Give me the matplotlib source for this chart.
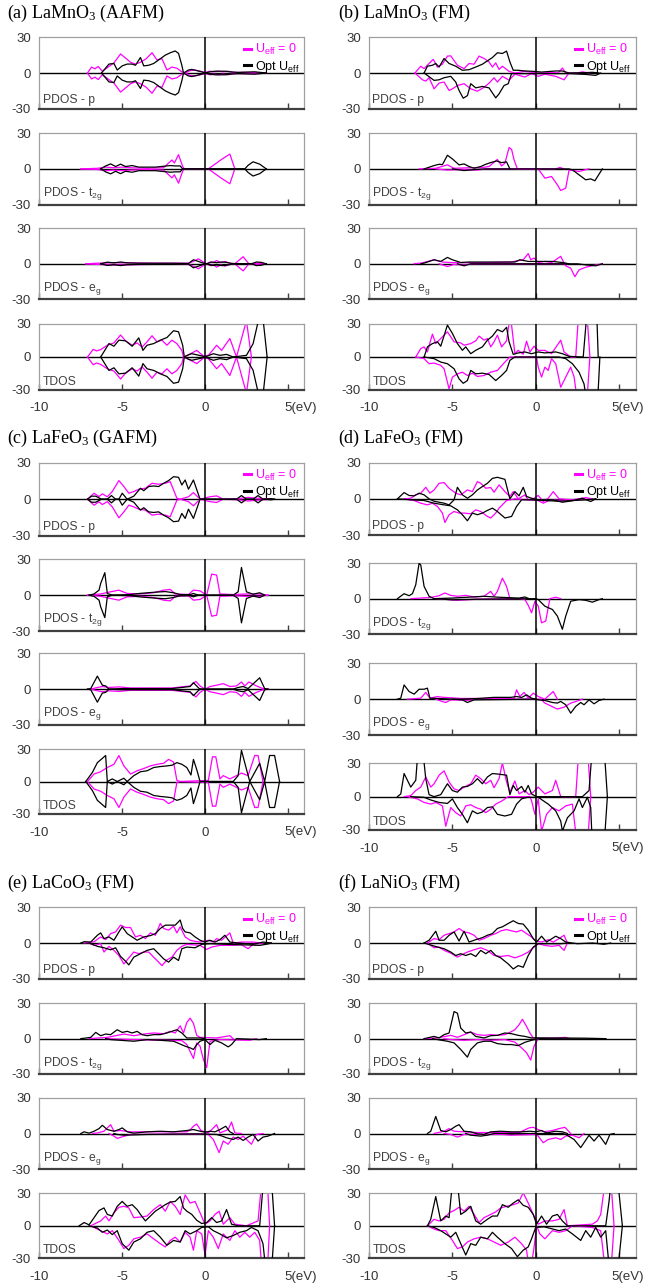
import numpy as np
import matplotlib as mpl
mpl.use('Agg')
import matplotlib.pyplot as plt
from matplotlib.lines import Line2D

plt.rcParams['font.family'] = ['Liberation Sans', 'DejaVu Sans']
plt.rcParams['mathtext.default'] = 'regular'

W, H = 645, 1287
MAG = '#ff00ff'
GREY = '#404040'

# ---- data: (energy eV, DOS) keypoints ----
# m = U_eff = 0 (magenta), k = optimal U_eff (black); u = spin up, d = spin down
# AFM panels (a), (c) are mirror symmetric, only the up part is listed

# (a) LaMnO3 AAFM
a_p_m = [(-7.1,0),(-6.85,5),(-6.65,3.5),(-6.45,5.5),(-6.2,1.5),(-5.85,5),(-5.5,8.5),(-5.1,16),(-4.75,12),(-4.5,9),(-4.2,7.5),(-3.9,9),(-3.55,12),(-3.2,17),(-2.9,11),(-2.6,12),(-2.3,2.5),(-2.0,5),(-1.7,4),(-1.4,1),(-1.2,0),(-0.9,2),(-0.6,2.5),(-0.3,1.5),(0,0.5),(0.3,1.5),(0.55,1),(0.8,1.5),(1.1,1),(1.4,1.5),(1.7,0.5),(2.5,0.5),(3.7,0)]
a_p_k = [(-6.25,0),(-5.8,7.5),(-5.5,8),(-5.3,2.5),(-5.0,6),(-4.7,7.5),(-4.4,7.5),(-4.2,6.5),(-3.9,13),(-3.7,6),(-3.4,6.5),(-3.1,8),(-2.7,12),(-2.4,15),(-2.1,17),(-1.8,18.5),(-1.6,16.5),(-1.4,6.5),(-1.3,0),(-1.0,2.5),(-0.8,3),(-0.5,2),(-0.2,1),(0,0),(0.3,1),(0.6,1.5),(0.9,1.5),(1.2,1.5),(1.5,1),(2.0,0.5),(3.0,1),(3.7,0)]
a_t_m = [(-7.5,0),(-6.5,0.5),(-6,1.5),(-5.5,1),(-5,1.5),(-4.5,1),(-3.5,0.5),(-2.5,1),(-2.0,7.5),(-1.85,5),(-1.6,12),(-1.35,2),(-1.25,0),(0.2,0),(0.6,4),(1.0,8),(1.5,12.5),(1.8,0)]
a_t_k = [(-6.3,0),(-6.0,2.5),(-5.7,4.2),(-5.4,2),(-5.1,4),(-4.8,2),(-4.4,2.8),(-4.0,1.5),(-3.0,1.5),(-2.1,2.8),(-1.8,2.5),(-1.5,2.5),(-1.35,0),(2.4,0),(2.6,3),(2.9,6),(3.3,4),(3.7,0)]
a_e_m = [(-7.2,0),(-6.5,0.5),(-5.5,1),(-4.5,0.8),(-3,0.5),(-1.0,0.5),(-0.7,2),(-0.4,4.2),(-0.1,1.5),(0.1,0),(0.3,1.5),(0.5,1),(0.7,2.8),(0.95,1),(1.2,2),(1.5,0.5),(1.8,0),(2.3,6),(2.65,0),(3.2,0.5),(3.6,0)]
a_e_k = [(-6.3,0),(-5.9,1.4),(-5.5,0.8),(-5.1,1.5),(-4.7,0.8),(-4.0,0.5),(-2,0.5),(-1.0,0.3),(-0.7,3.4),(-0.4,2),(-0.1,0.5),(0.1,0),(0.4,1.5),(0.7,1),(1.0,1.5),(1.3,1.2),(1.6,0.3),(2.8,0),(3.1,1.5),(3.4,1.2),(3.7,0)]
a_T_m = [(-7.1,0),(-6.75,7),(-6.55,5.5),(-6.3,6.7),(-5.9,10.7),(-5.5,12.8),(-5.1,20),(-4.8,14.7),(-4.4,10.7),(-4.1,12.8),(-3.8,9),(-3.5,13.8),(-3.2,19.3),(-2.9,13.8),(-2.6,15.3),(-2.3,10.7),(-2.0,15.3),(-1.7,12.2),(-1.4,6),(-1.3,0),(-1.0,2),(-0.5,6),(-0.1,1),(0.2,1.5),(0.45,6),(0.7,10.7),(1.0,6),(1.5,16.8),(1.9,0),(2.5,33),(2.8,0)]
a_T_k = [(-6.3,0),(-5.8,12.2),(-5.5,9.8),(-5.2,15.3),(-4.8,14.7),(-4.4,9.8),(-4.0,17.4),(-3.75,6),(-3.5,10.7),(-3.1,12.2),(-2.7,15.3),(-2.3,17.7),(-1.9,23.9),(-1.6,22.9),(-1.35,10.7),(-1.25,0),(-1.0,2),(-0.8,3),(-0.5,2),(-0.2,1),(0,0),(0.5,3),(0.9,1.5),(1.3,2.4),(1.7,0),(2.5,1.5),(2.9,12),(3.25,35),(3.5,35),(3.75,0)]

# (b) LaMnO3 FM
b_p_mu = [(-7.25,0),(-6.9,5.7),(-6.7,3.7),(-6.4,8),(-6.15,11.5),(-5.9,5),(-5.6,7.4),(-5.3,14.2),(-5.1,14.4),(-4.7,6.5),(-4.3,3.7),(-4.0,8),(-3.7,7.4),(-3.4,14.2),(-3.1,12.2),(-2.8,9.3),(-2.6,5),(-2.4,8.5),(-2.2,3),(-2.0,5.7),(-1.6,1.4),(-1.25,0),(-0.65,1.4),(-0.2,0.5),(0.3,0),(1.0,0.5),(1.35,0),(1.6,4.2),(1.8,0),(2.5,0),(2.8,1),(3.2,0)]
b_p_md = [(-7.25,0),(-6.8,-5.7),(-6.6,-6.8),(-6.4,-4),(-6.1,-13.3),(-5.8,-8.5),(-5.5,-7.6),(-5.2,-14.7),(-5.0,-13.3),(-4.7,-10.5),(-4.3,-9),(-3.9,-13.3),(-3.5,-15.3),(-3.1,-12),(-2.8,-8.5),(-2.5,-4),(-2.3,-7.6),(-2.0,-2.8),(-1.6,-6),(-1.25,-1),(-0.65,-3.4),(-0.25,-0.5),(0.15,-2.8),(0.55,-1),(1.2,-2.8),(1.7,-5.7),(2.0,0)]
b_p_ku = [(-6.7,0),(-6.5,5.7),(-6.2,6.5),(-6.0,8),(-5.8,5),(-5.5,12.2),(-5.2,8),(-4.8,5.7),(-4.4,2.3),(-4.0,2.8),(-3.6,5),(-3.2,7.4),(-2.9,10.2),(-2.6,13),(-2.3,17),(-2.0,16.4),(-1.75,18.4),(-1.55,9.3),(-1.35,2.3),(-1.05,2.3),(-0.65,1.7),(-0.15,1.4),(0.35,0.8),(1.2,1.7),(1.6,1.7),(2.0,0),(3.0,0.3),(3.4,0.6),(3.8,0)]
b_p_kd = [(-6.7,0),(-6.1,-6.2),(-5.8,-5.7),(-5.5,-4),(-5.1,-2.8),(-4.8,-7.6),(-4.6,-14.7),(-4.35,-21.2),(-4.1,-19),(-3.9,-9),(-3.6,-12.5),(-3.2,-11.3),(-2.8,-12.5),(-2.4,-20.9),(-2.2,-17.5),(-1.9,-10.5),(-1.65,-9),(-1.45,-0.5),(0,-0.5),(2.0,-0.5),(3.0,-1.2),(3.6,-2),(3.9,0)]
b_t_mu = [(-7,0),(-6,0.5),(-5.3,3.4),(-4.9,0.5),(-4,1),(-3.3,1),(-2.8,2),(-2.3,8),(-2.05,2.5),(-1.85,4.8),(-1.6,18),(-1.45,16.5),(-1.3,7.6),(-1.1,0),(1.2,0),(1.45,1.2),(1.7,0)]
b_t_md = [(-6,0),(-5.3,-1),(-4.5,-0.5),(-3.5,-1),(-3,0),(0.15,0),(0.55,-7.8),(0.95,-6.4),(1.3,-13.4),(1.5,-18.2),(1.8,-16.2),(2.0,-1),(2.3,-1.5),(2.6,-2.2),(2.9,-1),(3.2,0)]
b_t_ku = [(-6.7,0),(-6.1,2.8),(-5.8,3.9),(-5.6,3.6),(-5.3,11.5),(-5.0,8.4),(-4.6,3.4),(-4.3,4.2),(-4.0,2),(-3.7,0.6),(-3.3,2),(-3.0,3.9),(-2.7,5.3),(-2.35,6.7),(-2.05,5.3),(-1.75,5.9),(-1.55,0)]
b_t_kd = [(-5,0),(-4.3,-1.4),(-3.6,-0.5),(-3,0),(2.0,0),(2.2,-0.8),(2.6,-5),(3.0,-9.2),(3.3,-8.4),(3.55,-10),(4.0,0)]
b_e_mu = [(-7.3,0),(-6.8,0.8),(-6.1,3.4),(-5.6,1.5),(-5,1),(-3,1),(-1.5,1.5),(-0.75,3.4),(-0.45,8.6),(-0.3,3.4),(-0.1,4.9),(0.15,1.1),(0.55,2),(0.95,1.1),(1.2,3.4),(1.5,6.3),(1.7,0.6),(1.9,0)]
b_e_md = [(-5.8,0),(-5.3,-2.3),(-4.9,-0.5),(-4.3,-1),(-3.8,0),(1.7,0),(1.8,-1.7),(2.1,-3.7),(2.35,-10.9),(2.6,-5.1),(3.0,-2.9),(3.6,-1),(4.0,0)]
b_e_ku = [(-6.9,0),(-6.7,0.6),(-6.1,3.4),(-5.7,2),(-5.3,5.4),(-5.0,3.4),(-4.5,1.1),(-4,1.5),(-2,1.5),(-1.25,1.5),(-0.95,3.4),(-0.45,2),(0.15,2),(1.0,2),(1.6,1.1),(2.0,0)]
b_e_kd = [(-4.7,0),(-4.3,-1.7),(-3.9,0),(2.5,0),(3.0,-0.9),(3.6,-1.7),(4.0,0)]
b_T_mu = [(-7.2,0),(-6.9,7.6),(-6.7,9.2),(-6.5,4.6),(-6.2,20.8),(-6.0,12.2),(-5.7,16.8),(-5.3,22.9),(-4.9,13.8),(-4.5,12.8),(-4.3,10.7),(-3.9,12.2),(-3.6,14.7),(-3.4,19),(-3.1,15.3),(-2.9,16.8),(-2.7,9.2),(-2.5,13.8),(-2.3,19.9),(-2.05,9.2),(-1.75,14.7),(-1.6,30.5),(-1.45,29),(-1.25,3),(-1.05,6.1),(-0.75,2.5),(-0.55,14.4),(-0.35,4.6),(-0.1,9.8),(0.15,6),(0.55,6),(0.95,3),(1.2,8.6),(1.5,15.3),(1.7,4.6),(2.1,0),(2.4,0),(2.6,45),(3.05,45),(3.25,0)]
b_T_md = [(-7.2,0),(-6.7,-1.5),(-6.4,-6.1),(-6.1,-5.5),(-5.7,-7.6),(-5.5,-10.7),(-5.2,-29),(-5.0,-18.3),(-4.7,-15.3),(-4.4,-13.8),(-4.1,-16.8),(-3.8,-14.7),(-3.5,-17.7),(-3.1,-16.8),(-2.7,-13.8),(-2.3,-12.2),(-1.85,-4.6),(-1.55,0),(0.05,0),(0.15,-9.2),(0.35,-18.3),(0.55,-9.2),(0.75,-12.2),(0.95,-1.5),(1.2,-6.1),(1.5,-27.5),(1.8,-18.3),(2.1,-9.2),(2.3,-18),(2.55,-45),(3.05,-45),(3.25,0)]
b_T_ku = [(-6.7,0),(-6.5,9.2),(-6.2,12.2),(-5.9,13.8),(-5.7,9.8),(-5.3,29),(-5.0,21.4),(-4.7,12.2),(-4.4,6.1),(-4.2,9.2),(-3.9,3),(-3.6,6.1),(-3.2,9.2),(-2.9,15.3),(-2.6,19),(-2.3,25),(-2.0,22.9),(-1.75,27),(-1.6,13.8),(-1.35,2.4),(-1.05,3.7),(-0.65,4.6),(-0.25,3),(0.15,4.6),(0.55,3.7),(1.2,4.6),(1.6,3),(2.0,0.6),(2.85,0),(3.1,45),(3.65,45),(3.75,0)]
b_T_kd = [(-6.7,0),(-6.1,-1.5),(-5.7,-4.6),(-5.3,-6.1),(-4.9,-10.7),(-4.6,-19.9),(-4.35,-23.9),(-4.1,-21.4),(-3.9,-12.2),(-3.6,-15.3),(-3.2,-14.7),(-2.8,-15.9),(-2.4,-21.4),(-2.05,-16.8),(-1.75,-12.2),(-1.55,-3),(-1.25,0),(1.4,0),(1.8,-1.5),(2.2,-6.1),(2.6,-13.8),(2.9,-24.5),(3.1,-45),(3.7,-45),(3.85,0)]

# (c) LaFeO3 GAFM
c_p_m = [(-7.1,0),(-6.7,4.9),(-6.4,2.2),(-6.2,4.4),(-5.9,2),(-5.6,6.3),(-5.2,15.3),(-4.9,10.4),(-4.6,4.9),(-4.3,6.3),(-4.0,8.2),(-3.6,9),(-3.2,13.1),(-2.8,12.3),(-2.4,13.1),(-2.1,14.4),(-1.9,7.6),(-1.7,0.8),(-1.5,0),(-1.0,2),(-0.7,5.4),(-0.3,0),(0.3,2),(0.7,2.7),(1.1,0),(2.0,0.5),(2.6,1.5),(3.0,1),(3.5,0.5),(4.0,0)]
c_p_k = [(-7.1,0),(-6.85,2.5),(-6.6,2.5),(-6.25,0),(-5.9,0),(-5.65,3),(-5.4,0),(-5.2,0),(-5.0,4.9),(-4.7,0),(-4.3,2.5),(-3.9,9),(-3.7,7),(-3.4,10.4),(-3.1,10.9),(-2.8,10.4),(-2.5,13.1),(-2.2,15.3),(-1.9,18.5),(-1.6,18),(-1.4,11.7),(-1.2,15.8),(-1.0,8.2),(-0.7,15.8),(-0.3,0),(1.9,0),(2.2,3),(2.5,0),(2.9,0),(3.2,3),(3.5,0),(4.0,0.5),(4.2,0)]
c_t_m = [(-7.1,0),(-6.3,1),(-5.7,2.8),(-5.2,4.2),(-4.7,1.4),(-3.9,1),(-3.1,2),(-2.5,4.2),(-2.1,4.8),(-1.8,1),(-1.0,0.5),(-0.7,4.2),(-0.3,3.6),(0.1,0),(0.4,17.6),(0.7,16.8),(0.9,1),(1.7,0.5),(2.5,1),(3.3,1),(3.8,0)]
c_t_k = [(-7.0,0),(-6.7,1),(-6.4,4.2),(-6.3,9.8),(-6.05,18.8),(-5.9,1.4),(-5.6,0),(-4.5,0.5),(-3.9,1.5),(-3.0,2.5),(-2.4,3),(-1.9,2),(-1.5,0.5),(-0.9,0.5),(-0.7,1.4),(-0.4,0),(1.7,0),(2.0,2.8),(2.2,23.2),(2.5,2.8),(2.9,0.8),(3.3,2),(3.6,0)]
c_e_m = [(-6.9,0),(-6.5,1.4),(-6.2,2.2),(-5.8,1.4),(-5.2,1.9),(-4.5,1),(-2,1),(-0.9,2.7),(-0.55,6.5),(-0.3,2.7),(0,0),(0.3,2.2),(0.7,3.3),(1.1,4.6),(1.5,2.2),(1.9,2.7),(2.2,6),(2.4,2.7),(2.65,6),(3.1,2.7),(3.5,0.5),(3.8,0)]
c_e_k = [(-7.1,0),(-6.9,0.5),(-6.5,10.9),(-6.2,3.3),(-6.0,2.7),(-5.8,0),(-5,0.5),(-2,0.5),(-0.9,2.2),(-0.7,5.4),(-0.35,0.5),(-0.2,0),(1.7,0),(2.0,1.4),(2.3,2.2),(2.6,0.5),(3.3,9.5),(3.6,0.5),(3.8,0)]
c_T_m = [(-7.1,0),(-6.7,6.9),(-6.3,9),(-5.9,12.9),(-5.5,15.9),(-5.2,24),(-4.9,14.4),(-4.5,6.9),(-4.1,9.9),(-3.7,12),(-3.3,14.4),(-2.9,15.9),(-2.5,16.8),(-2.2,20.4),(-1.9,18),(-1.7,1),(-1.5,0),(0.2,1),(0.45,22.8),(0.65,22.8),(0.9,2.4),(1.1,5.4),(1.5,2.4),(1.9,5.4),(2.2,7.8),(2.6,5.4),(3.0,24),(3.2,24),(3.5,0)]
c_T_k = [(-7.2,0),(-6.8,8.4),(-6.5,17.4),(-6.0,24),(-5.9,0),(-5.6,2.4),(-5.3,0),(-4.9,3),(-4.7,0),(-4.3,5.4),(-3.9,9),(-3.5,9.9),(-3.1,12.9),(-2.7,13.8),(-2.3,14.4),(-2.0,15),(-1.7,17.4),(-1.4,15.9),(-1.1,12.9),(-0.85,6),(-0.7,20.4),(-0.5,11),(-0.3,0),(1.7,0),(2.0,5.4),(2.2,28.8),(2.5,11.4),(2.7,0),(3.3,16.8),(3.6,0),(3.9,24),(4.2,24),(4.5,0)]

# (d) LaFeO3 FM
d_p_mu = [(-7.9,0),(-7.5,0.5),(-7.2,3.3),(-6.9,4.7),(-6.6,9.6),(-6.35,4.7),(-6.1,7.4),(-5.8,12.9),(-5.5,13.5),(-5.2,8.8),(-4.8,4.7),(-4.5,3.3),(-4.1,7.4),(-3.8,6),(-3.5,14.3),(-3.3,12.9),(-3.0,8.8),(-2.7,9.4),(-2.5,5.5),(-2.2,11.6),(-1.85,6),(-1.55,2),(-1.35,6),(-1.05,0),(-0.65,3.3),(-0.45,-0.8),(-0.15,0),(0.15,2.8),(0.45,-2.2),(0.75,0.5),(1.05,6),(1.4,0),(2.2,-0.8),(3.0,1),(3.4,0)]
d_p_md = [(-7.9,0),(-7.3,-1.4),(-6.9,-3.6),(-6.5,-5),(-6.2,-3.6),(-5.9,-6.3),(-5.6,-11.8),(-5.45,-19.6),(-5.2,-13.2),(-4.9,-10.5),(-4.6,-11.8),(-4.3,-11.8),(-3.9,-12.4),(-3.6,-9.1),(-3.3,-10.5),(-2.9,-14.6),(-2.7,-15.9),(-2.4,-11.8),(-2.2,-7.7),(-1.75,-1.4),(-1.25,0),(0.15,-1.4),(0.45,-3.6),(0.9,-0.8),(1.8,-1.6),(2.6,-0.8),(3.4,0)]
d_p_ku = [(-8.3,0),(-7.9,5.2),(-7.6,2.8),(-7.3,2.5),(-7.0,4.7),(-6.7,3.3),(-6.4,0),(-6.1,-2),(-5.5,-3.6),(-5.2,-5),(-4.9,-0.8),(-4.7,9.6),(-4.4,3.3),(-4.1,0.5),(-3.8,3.3),(-3.5,7.4),(-3.2,10.2),(-2.9,12.9),(-2.6,17),(-2.3,17.9),(-1.85,16.2),(-1.55,0),(-1.25,6),(-1.0,2.5),(-0.75,9.6),(-0.55,2),(-0.25,0.5),(0.15,-0.8),(1.0,-0.8),(1.6,-2.8),(2.2,-1.6),(2.8,0.5),(3.3,-2.2),(3.6,0)]
d_p_kd = [(-8.3,0),(-7.5,-0.8),(-6.7,-1.4),(-6.1,-3.6),(-5.5,-5),(-5.1,-5.8),(-4.7,-9.1),(-4.4,-13.2),(-4.1,-18.2),(-3.8,-11.8),(-3.5,-13.2),(-3.2,-11.8),(-2.9,-9.6),(-2.6,-7.7),(-2.3,-10.5),(-1.85,-15.9),(-1.45,-14.6),(-1.15,-6.3),(-0.85,-0.8),(-0.25,-0.8),(1.4,-2),(2.2,-1.4),(3.0,-0.8),(3.6,0)]
d_t_mu = [(-7.5,0),(-6.3,1),(-5.8,2.5),(-5.45,4.8),(-5.1,2.8),(-4.7,2),(-4.2,2.8),(-3.7,1.4),(-3.1,2),(-2.7,6.2),(-2.5,2),(-2.3,6.2),(-2.0,17.4),(-1.75,10.4),(-1.55,0)]
d_t_md = [(-6,0),(-4.7,-1.4),(-3.5,-0.5),(-1.0,0),(-0.65,-0.8),(-0.45,-5.6),(-0.25,-12),(-0.05,-2.2),(0.15,-6.4),(0.35,-20.5),(0.6,-19),(0.85,0),(1.2,1.2),(1.5,0)]
d_t_ku = [(-8.3,0),(-7.9,4.2),(-7.6,2.5),(-7.4,4.2),(-7.2,11.8),(-7.0,30),(-6.9,28.6),(-6.7,10.4),(-6.4,2),(-6.1,0),(-5,0.5),(-3.1,2),(-2.2,1.2),(-1,0.5),(-0.65,1.4),(-0.4,0)]
d_t_kd = [(-6,0),(-5,-1),(-3.5,-0.5),(0,0),(0.15,-0.8),(0.55,-6.4),(1.0,-9.2),(1.3,-14.8),(1.6,-26),(1.8,-14.8),(2.1,-2.2),(2.6,-0.8),(3.0,-1.4),(3.4,-3),(3.8,-0.8),(4.0,0)]
d_e_mu = [(-7.7,0),(-6.9,0.8),(-6.6,5.6),(-6.35,0.8),(-5.9,2.2),(-5.6,1.6),(-4.5,0.6),(-2,0.6),(-1.3,0.6),(-1.15,7.8),(-0.95,2.2),(-0.7,5.6),(-0.45,0.8),(-0.15,5),(0.15,2.2),(0.55,0),(1.05,6.4),(1.3,0)]
d_e_md = [(-6,0),(-5.6,-2),(-5.4,-2.8),(-5.1,-0.6),(-4.1,-1),(-3.5,0),(0.3,0),(0.55,-3.3),(1.3,-8.3),(1.7,-6.7),(2.1,-3.3),(2.4,-2),(2.8,0)]
d_e_ku = [(-8.3,0),(-8.1,0.8),(-7.9,11.9),(-7.6,6.4),(-7.3,4.2),(-7.0,8.3),(-6.7,8.3),(-6.5,9.2),(-6.35,0.8),(-5.9,0.6),(-5.0,0),(-4.5,0),(-3.5,0.5),(-2.5,1.5),(-1.5,1.5),(-1.15,2.2),(-0.85,1.4),(-0.55,3.6),(-0.25,0.8),(0.0,0)]
d_e_kd = [(-5.0,0),(-4.4,-0.6),(-4.1,-2.8),(-3.7,-0.6),(0,0),(0.15,-0.6),(0.55,-1.1),(1.0,-2.8),(1.3,-3.3),(1.5,-1.9),(1.8,-4.7),(2.1,-11.7),(2.4,-6.1),(2.7,-2.8),(2.9,-4.7),(3.2,-0.6),(3.5,-3.9),(3.8,-1.1),(4.1,0)]
d_T_mu = [(-7.9,0),(-7.5,0.9),(-7.2,5.5),(-6.9,8.6),(-6.6,17.7),(-6.3,8.6),(-6.1,11.6),(-5.8,19.3),(-5.5,23.2),(-5.2,13.1),(-4.9,7),(-4.6,5.5),(-4.3,8.6),(-3.9,11.6),(-3.6,19.3),(-3.3,16.2),(-3.0,11.6),(-2.7,14.7),(-2.5,8),(-2.2,16.2),(-2.0,30.5),(-1.75,13.1),(-1.55,4),(-1.25,14.1),(-1.0,2.5),(-0.65,5.5),(-0.4,1.8),(-0.15,4),(0.15,8.6),(0.55,2.5),(1.0,5.5),(1.2,14.7),(1.5,0),(2.4,0),(2.6,45),(3.1,45),(3.3,0)]
d_T_md = [(-7.7,0),(-7.1,-2),(-6.7,-5.2),(-6.3,-6.7),(-6.0,-5.2),(-5.6,-8.3),(-5.4,-26.6),(-5.1,-9.8),(-4.8,-14.4),(-4.5,-17.4),(-4.2,-8.3),(-3.9,-7.3),(-3.6,-9.8),(-3.3,-11.3),(-3.0,-14.4),(-2.7,-11.3),(-2.4,-6.7),(-2.0,-3.6),(-1.65,0),(-0.35,0),(-0.25,-3.6),(-0.05,-15.9),(0.15,-2),(0.35,-31),(0.65,-15.9),(1.0,-9.8),(1.4,-12.8),(1.8,-8.3),(2.2,-6.7),(2.5,-45),(3.1,-45),(3.3,0)]
d_T_ku = [(-8.3,0),(-8.1,2.4),(-7.9,20.8),(-7.5,8.6),(-7.2,14.7),(-7.05,45),(-6.8,45),(-6.6,16.2),(-6.4,1.8),(-6.1,0),(-5.7,1.8),(-5.3,11.6),(-5.0,5.5),(-4.7,4),(-4.4,8.6),(-4.1,9.2),(-3.8,11.6),(-3.5,16.2),(-3.2,11.6),(-2.9,17.7),(-2.6,20.8),(-2.2,20.2),(-1.75,19.3),(-1.55,1.8),(-1.35,10.1),(-1.15,5.5),(-0.85,9.2),(-0.65,4),(-0.45,10.1),(-0.25,2.4),(0.05,0),(2.8,0),(3.2,5.5),(3.4,45),(4.1,45),(4.3,0)]
d_T_kd = [(-7.5,0),(-6.7,-0.6),(-6.3,-3),(-5.8,-5.2),(-5.3,-6.1),(-5.0,-2),(-4.7,-9.8),(-4.4,-15.9),(-4.1,-23.5),(-3.8,-12.8),(-3.5,-15.3),(-3.2,-13.8),(-2.9,-9.8),(-2.6,-9.2),(-2.3,-15.9),(-1.85,-17.4),(-1.45,-15.9),(-1.15,-6.7),(-0.85,-2),(-0.5,-0.6),(0.15,-0.6),(0.75,-6.7),(1.2,-12.8),(1.5,-22),(1.6,-31),(1.9,-19),(2.3,-12.8),(2.6,-2),(2.8,-9.8),(3.1,-0.6),(3.3,-9.8),(3.4,-45),(4.1,-45),(4.3,0)]

# (e) LaCoO3 FM
e_p_mu = [(-7.3,0),(-6.7,1),(-6.3,5.1),(-6.0,2.8),(-5.7,7.9),(-5.4,9.3),(-5.1,15),(-4.8,13),(-4.5,13),(-4.2,5.1),(-3.9,6.5),(-3.6,3.7),(-3.3,8.5),(-3.0,6.5),(-2.7,16.4),(-2.5,12.2),(-2.2,10.8),(-1.9,14.2),(-1.7,8.5),(-1.5,13.6),(-1.2,5.1),(-0.9,2.3),(-0.6,1.4),(-0.3,0.8),(0.2,2.3),(0.5,0.8),(0.7,3.7),(1.0,2.3),(1.5,8.5),(1.7,0),(2.2,0.8),(2.9,0.8),(3.3,0)]
e_p_md = [(-7.0,0),(-6.7,-2),(-6.3,-0.6),(-6.1,-7.6),(-5.8,-2.8),(-5.5,-6.2),(-5.2,-10.5),(-4.9,-17.6),(-4.6,-12.5),(-4.3,-7.6),(-4.0,-9),(-3.7,-7.6),(-3.4,-7.6),(-3.1,-11.9),(-2.9,-14.7),(-2.6,-19),(-2.3,-14.2),(-2.0,-11.9),(-1.7,-6.2),(-1.4,-2.8),(-1.1,-1.1),(-0.3,-2),(0.1,-5.4),(0.4,-3.4),(0.9,-2),(1.7,-2),(2.2,-1.5),(2.6,-4.8),(2.9,-1.1),(3.5,0)]
e_p_ku = [(-7.5,0),(-7.3,1.1),(-6.9,0.8),(-6.5,6.5),(-6.3,8.5),(-6.1,3.7),(-5.8,5.1),(-5.5,2.3),(-5.2,9.3),(-5.0,13.6),(-4.7,7.9),(-4.4,5.1),(-4.1,2.3),(-3.7,5.1),(-3.3,6.2),(-3.0,7.9),(-2.7,12.2),(-2.4,15),(-2.1,15),(-1.8,15),(-1.5,19.3),(-1.35,12.2),(-1.2,9.3),(-0.9,8.5),(-0.6,5.1),(-0.3,2.3),(0.0,0.8),(0.3,2.3),(0.6,0.8),(0.9,2.8),(1.2,6.5),(1.5,0.8),(2.0,0),(2.9,-1.1),(3.5,0.8),(4.0,0)]
e_p_kd = [(-7.0,0),(-6.5,-2.8),(-6.1,-4),(-5.7,-5.7),(-5.4,-4),(-5.1,-11.3),(-4.8,-15.3),(-4.6,-18.4),(-4.3,-11.9),(-3.9,-9),(-3.5,-6.2),(-3.1,-4.8),(-2.8,-9),(-2.5,-13.3),(-2.2,-16.1),(-1.9,-11.9),(-1.6,-14.7),(-1.4,-4.8),(-1.1,-3.4),(-0.6,-4),(-0.2,-1.1),(0.3,-0.6),(1.3,-1.1),(3.3,-2),(3.8,-0.8),(4.0,0)]
e_t_mu = [(-7.0,0),(-5.9,1.1),(-4.9,3.9),(-4.3,2.5),(-3.7,3.9),(-3.1,4.8),(-2.5,4.2),(-2.1,6.2),(-1.8,4.8),(-1.5,10.9),(-1.3,4.8),(-1.1,13.7),(-0.9,17.4),(-0.7,13),(-0.5,2.8),(-0.3,1.1),(0.7,0.6),(1.5,2.5),(1.7,0)]
e_t_md = [(-6.0,0),(-4.3,-0.8),(-2.3,-1.4),(-1.4,-1.7),(-1.1,-5),(-0.7,-16.8),(-0.5,-3.6),(-0.3,-6.4),(-0.1,-17.6),(0.1,-24.6),(0.3,-2.2),(0.9,-0.8),(2.7,-1.4),(3.1,0)]
e_t_ku = [(-7.5,0),(-6.9,1.1),(-6.6,5.3),(-6.3,2.5),(-6.0,3.9),(-5.7,3.4),(-5.3,7.6),(-5.0,5.3),(-4.7,6.2),(-4.4,4.8),(-4.1,6.2),(-3.8,3.4),(-3.5,2.5),(-3.1,3.4),(-2.7,3.4),(-2.3,4.8),(-2.0,6.2),(-1.7,7.6),(-1.4,4.8),(-1.1,0.6),(-0.3,0.6),(0,0)]
e_t_kd = [(-6.0,0),(-5.7,-0.8),(-5.1,-1.4),(-4.3,-2.2),(-3.5,-0.8),(-2.7,-1.4),(-1.9,-2.2),(-1.2,-6.4),(-0.9,-7.8),(-0.7,-9.2),(-0.5,-5),(-0.3,-2.2),(0.0,-0.8),(0.3,-5),(0.6,-1.4),(1.0,-3.6),(1.4,-7),(1.6,-5),(1.9,0),(3.3,-0.8),(3.7,0)]
e_e_mu = [(-6.8,0),(-6.5,0.5),(-6.1,1.9),(-5.7,7.4),(-5.5,1.9),(-5.1,2.5),(-4.5,1.4),(-2,1.4),(-1.1,1.4),(-0.9,3),(-0.7,6.1),(-0.5,8),(-0.25,2.5),(0.2,0.5),(0.7,7.4),(0.9,0.5),(1.4,3.3),(1.6,9.6),(1.8,0.5),(2.2,0)]
e_e_md = [(-5.8,0),(-5.5,-2.2),(-5.3,-4.1),(-5.0,-2.8),(-4.5,-0.8),(-2,-0.5),(0,-0.3),(0.2,-0.8),(0.5,-5),(0.85,-16),(1.1,-6.3),(1.4,-9),(1.7,-3),(2.0,-5),(2.3,-2.2),(2.6,-6.3),(2.8,-9),(3.1,-0.8),(3.5,0)]
e_e_ku = [(-7.5,0),(-7.3,1.4),(-7.0,0.3),(-6.7,1.9),(-6.4,4.1),(-6.2,6.9),(-5.9,3.3),(-5.5,1.9),(-5.2,3.3),(-5.0,4.7),(-4.7,1.4),(-4.3,0.3),(-3.5,1.4),(-2.7,1.9),(-1.9,1.4),(-1.1,2.5),(-0.7,3.3),(-0.3,1.9),(0.0,1.1),(0.3,1.9),(0.6,1.4),(0.9,3.3),(1.25,6.1),(1.5,1.4),(1.7,0)]
e_e_kd = [(-5.5,0),(-5.3,-0.8),(-4.9,-1.4),(-3.5,-0.8),(-0.5,-0.3),(0.7,-0.8),(1.0,-2),(1.3,-3.6),(1.7,-5),(2.0,-3),(2.3,-5.8),(2.6,-3),(2.9,-0.8),(3.2,-6.3),(3.5,-3),(3.8,-2.2),(4.2,0)]
e_T_mu = [(-6.9,0),(-6.3,4.5),(-6.0,9),(-5.8,4.5),(-5.5,12),(-5.2,17.1),(-4.9,18),(-4.6,16.5),(-4.3,7.5),(-3.9,8.1),(-3.5,9),(-3.1,15),(-2.7,19.5),(-2.4,13.5),(-2.1,22.5),(-1.8,18),(-1.5,10.5),(-1.2,28.5),(-0.9,21),(-0.6,22.5),(-0.3,12),(0.0,1.5),(0.3,4.5),(0.6,10.5),(0.85,13.5),(1.1,1.5),(1.5,7.5),(1.8,1.5),(2.5,0),(3.2,4.5),(3.45,45),(3.75,45),(3.9,0)]
e_T_md = [(-6.9,0),(-6.3,-4.5),(-5.9,-7.5),(-5.6,-4.5),(-5.2,-13.5),(-4.9,-21),(-4.6,-18),(-4.3,-12),(-3.9,-10.5),(-3.5,-7.5),(-3.1,-12),(-2.7,-16.5),(-2.4,-19.5),(-2.1,-13.5),(-1.8,-10.5),(-1.5,-15),(-1.2,-6),(-0.9,-10.5),(-0.7,-22.5),(-0.5,-4.5),(-0.2,-7.5),(0.0,-27),(0.2,-4.5),(0.5,-10.5),(0.8,-21),(1.1,-7.5),(1.5,-13.5),(1.8,-4.5),(2.1,-10.5),(2.4,-6),(2.7,-10.5),(3.0,-6),(3.3,-13.5),(3.45,-45),(3.75,-45),(3.9,0)]
e_T_ku = [(-7.6,0),(-7.3,3),(-7.0,0.9),(-6.7,7.5),(-6.4,14.1),(-6.1,16.5),(-5.9,10.5),(-5.6,9),(-5.3,18),(-5.0,22.5),(-4.7,18),(-4.4,19.5),(-4.1,15),(-3.9,10.5),(-3.6,4.5),(-3.3,9),(-3.0,13.5),(-2.7,16.5),(-2.4,19.5),(-2.1,21.9),(-1.8,22.5),(-1.5,27),(-1.3,16.5),(-1.1,13.5),(-0.8,10.5),(-0.5,5.1),(-0.2,2.1),(0.1,3),(0.4,7.5),(0.7,3),(1.0,4.5),(1.3,15),(1.6,1.5),(2.0,0),(3.3,0),(3.55,45),(4.0,45),(4.2,0)]
e_T_kd = [(-7.0,0),(-6.5,-2.1),(-6.2,-6),(-5.9,-3.9),(-5.6,-8.1),(-5.3,-4.5),(-5.0,-16.5),(-4.6,-22.5),(-4.3,-15),(-3.9,-12),(-3.5,-6),(-3.1,-4.5),(-2.7,-10.5),(-2.3,-18),(-1.9,-13.5),(-1.5,-15),(-1.2,-4.5),(-0.9,-7.5),(-0.5,-4.5),(-0.2,-1.5),(0.2,-0.9),(0.5,-4.5),(0.9,-7.5),(1.3,-11.1),(1.7,-9),(2.1,-6),(2.5,-4.5),(2.8,-1.5),(3.2,-4.5),(3.5,-16.5),(3.7,-45),(4.0,-45),(4.2,0)]

# (f) LaNiO3 FM
f_p_mu = [(-6.5,0),(-6.1,3.7),(-5.8,2.8),(-5.5,6.5),(-5.2,7.9),(-4.9,9.3),(-4.6,12.2),(-4.3,9.3),(-4.0,8.5),(-3.7,6.5),(-3.4,2.3),(-3.1,3.7),(-2.7,6.5),(-2.4,7.9),(-2.1,10.2),(-1.75,11.3),(-1.45,10.2),(-1.15,9.3),(-0.85,10.8),(-0.55,7.9),(-0.25,5.1),(0.0,1.7),(0.35,0.8),(0.75,2.8),(1.05,0.8),(1.4,3.7),(1.7,6.5),(1.9,0)]
f_p_md = [(-6.5,0),(-6.1,-4),(-5.8,-3.4),(-5.5,-6.2),(-5.1,-8.5),(-4.7,-11.9),(-4.4,-9.6),(-4.1,-7.6),(-3.7,-5.7),(-3.3,-4),(-2.9,-6.2),(-2.5,-10.5),(-2.1,-11.3),(-1.65,-10.5),(-1.25,-12.5),(-0.85,-10.5),(-0.45,-7.6),(-0.15,-4),(0.15,-0.6),(0.55,-2),(0.95,-2.8),(1.4,-2),(1.7,-6.2),(1.9,0)]
f_p_ku = [(-6.7,0),(-6.4,2.3),(-6.0,9.9),(-5.8,2.3),(-5.5,2.3),(-5.2,6.5),(-4.9,9.3),(-4.6,1.7),(-4.3,9.9),(-4.0,0.8),(-3.6,2.8),(-3.2,4.5),(-2.9,6.5),(-2.6,7.9),(-2.3,12.2),(-2.0,13.6),(-1.65,16.4),(-1.35,18.7),(-1.05,16.4),(-0.75,15.9),(-0.45,10.8),(-0.15,3.7),(0.05,0.8),(0.35,5.7),(0.65,0.8),(1.2,5.7),(1.5,3.7),(1.8,0.8),(2.5,-0.6),(3.4,0),(4.1,-1.1),(4.5,0)]
f_p_kd = [(-6.7,0),(-5.9,-3.4),(-5.5,-4.8),(-5.1,-7.6),(-4.8,-10.5),(-4.5,-9),(-4.2,-10.5),(-3.9,-9),(-3.6,-11.3),(-3.3,-6.2),(-3.0,-9),(-2.7,-6.2),(-2.4,-10.5),(-2.1,-12.5),(-1.65,-17.6),(-1.35,-21.8),(-1.05,-19),(-0.75,-20.4),(-0.45,-10.5),(-0.15,-3.4),(0.15,-0.6),(1.5,-0.6),(2.0,0)]
f_t_mu = [(-6.7,0),(-5.9,0.6),(-5.1,2.8),(-4.7,1.1),(-3.9,5.6),(-3.5,3.4),(-3.1,2.8),(-2.7,3.4),(-2.3,2.8),(-1.85,3.4),(-1.55,5.3),(-1.25,7.6),(-1.0,11.8),(-0.8,16.5),(-0.55,10.4),(-0.35,4.8),(-0.15,0.6),(1.0,0.3),(1.8,1.1),(2.0,0)]
f_t_md = [(-5.5,0),(-5.1,-0.8),(-4.3,-1.4),(-3.5,-0.8),(-2.7,-1.4),(-1.85,-0.8),(-1.25,-3),(-0.85,-7.8),(-0.55,-12),(-0.3,-18.2),(-0.1,-6.4),(0.15,0)]
f_t_ku = [(-6.7,0),(-6.1,1.9),(-5.8,0.6),(-5.5,3.4),(-5.2,4.8),(-4.9,23),(-4.7,21.6),(-4.5,9),(-4.2,4.8),(-3.9,5.6),(-3.6,1.9),(-3.1,0.6),(-2.7,2.5),(-2.3,2.8),(-1.85,4.8),(-1.45,4.2),(-1.05,2.8),(-0.65,1.9),(-0.25,0.6),(1,0.6),(3,0.4),(4.2,0)]
f_t_kd = [(-6.2,0),(-5.9,-0.8),(-5.3,-2.2),(-4.9,-3.6),(-4.5,-9.2),(-4.1,-15.7),(-3.9,-9.2),(-3.5,-3.6),(-3.1,-2.2),(-2.7,-2.2),(-2.3,-4.2),(-1.85,-5),(-1.45,-5),(-1.05,-5.9),(-0.65,-3.1),(-0.25,-1.4),(0.15,0),(3.5,-0.5),(4.2,0)]
f_e_mu = [(-6.1,0),(-5.5,1.9),(-5.2,4.1),(-4.9,1.9),(-4.3,1.4),(-3.5,0.8),(-1,0.8),(-0.4,4.7),(-0.15,5.2),(0.15,3.3),(0.5,1.5),(1.0,2.5),(1.4,4.1),(1.75,5.2),(2.1,0)]
f_e_md = [(-5.5,0),(-5.1,-0.8),(-4.7,-3),(-4.3,-0.8),(-2,-0.8),(-1.5,-1.4),(0,-0.8),(0.15,-2.2),(0.45,-7.7),(0.75,-5),(1.2,-3.6),(1.5,-5),(1.8,-2.2),(2.2,-1.4),(2.6,-3.6),(2.9,0)]
f_e_ku = [(-6.5,0),(-6.3,1.9),(-6.0,14.3),(-5.7,2.5),(-5.4,1.4),(-5.1,3.3),(-4.8,6.1),(-4.6,7.4),(-4.3,1.9),(-3.9,1.4),(-3.5,-0.3),(-3.1,-0.8),(-2.7,1.4),(-2.1,1.9),(-1.45,1.4),(-0.85,1.4),(-0.35,1.9),(0.0,1.4),(0.35,2.5),(0.65,0.5),(1.2,1.9),(1.6,1.4),(1.9,0)]
f_e_kd = [(-4.2,0),(-3.9,-1.4),(-3.3,-2.2),(-2.9,-1.4),(-2.5,0),(1.6,0),(1.8,-0.8),(2.3,-5),(2.7,-11.8),(3.2,-1.5),(3.5,-6.3),(3.8,-1.4),(4.2,-9.1),(4.45,-0.8),(4.7,0)]
f_T_mu = [(-6.5,0),(-6.1,6),(-5.8,4.5),(-5.5,6),(-5.2,12),(-4.9,14.1),(-4.6,17.1),(-4.3,13.5),(-4.0,18),(-3.7,10.5),(-3.4,3),(-3.1,7.5),(-2.7,10.5),(-2.4,12.9),(-2.1,16.5),(-1.75,18),(-1.35,19.5),(-1.05,21),(-0.75,30.5),(-0.45,21),(-0.15,10.5),(0.15,1.5),(0.55,4.5),(1.0,4.5),(1.4,6),(1.7,15),(1.9,0),(3.4,1.5),(3.7,4.5),(3.9,10.5),(4.2,45),(4.5,45),(4.7,0)]
f_T_md = [(-6.5,0),(-6.1,-3),(-5.8,-4.5),(-5.4,-4.5),(-5.0,-13.5),(-4.7,-21),(-4.4,-19.5),(-4.1,-15),(-3.7,-12),(-3.3,-10.5),(-2.9,-12),(-2.5,-15),(-2.1,-18),(-1.65,-15),(-1.25,-10.5),(-0.85,-16.5),(-0.55,-22.5),(-0.35,-45),(-0.1,-20),(0.05,0),(0.25,-7.5),(0.55,-12),(1.0,-4.5),(1.4,-6),(1.8,-4.5),(2.2,0),(3.4,-1.5),(3.9,-4.5),(4.2,-45),(4.5,-45),(4.7,0)]
f_T_ku = [(-6.5,0),(-6.3,6),(-6.0,27),(-5.7,4.5),(-5.4,9),(-5.2,7.5),(-5.0,40),(-4.7,40),(-4.5,10.5),(-4.2,13.5),(-3.9,18),(-3.6,4.5),(-3.3,1.5),(-2.9,6),(-2.6,9),(-2.3,9),(-2.0,19.5),(-1.65,17.1),(-1.35,21),(-1.05,24),(-0.75,18.9),(-0.45,17.1),(-0.15,10.5),(0.05,1.5),(0.35,9),(0.65,1.5),(1.0,9),(1.3,10.5),(1.6,4.5),(1.9,0),(4.2,0),(4.4,22.5),(4.55,45),(4.9,45),(5.2,0)]
f_T_kd = [(-6.5,0),(-6.1,-1.5),(-5.7,-4.5),(-5.4,-7.5),(-5.1,-10.5),(-4.8,-6),(-4.5,-16.5),(-4.2,-27),(-3.9,-16.5),(-3.6,-18),(-3.3,-10.5),(-2.9,-12),(-2.6,-6),(-2.3,-10.5),(-1.85,-16.5),(-1.45,-21),(-1.1,-28.5),(-0.75,-22.5),(-0.45,-19.5),(-0.25,-12),(0.0,-1.5),(0.5,-0.9),(1.4,-4.5),(1.8,-3),(2.2,-7.5),(2.7,-13.5),(3.0,-4.5),(3.3,-10.5),(3.6,-1.5),(3.9,-10.5),(4.2,-4.5),(4.45,-45),(4.9,-45),(5.2,0)]

titles = ['(a) LaMnO$_3$ (AAFM)', '(b) LaMnO$_3$ (FM)', '(c) LaFeO$_3$ (GAFM)',
          '(d) LaFeO$_3$ (FM)', '(e) LaCoO$_3$ (FM)', '(f) LaNiO$_3$ (FM)']
row_labels = ['PDOS - p', 'PDOS - t$_{2g}$', 'PDOS - e$_g$', 'TDOS']
xtick_vals = [-10, -5, 0, 5]
xtick_text = ['-10', '-5', '0', '']
ytick_vals = [-30, 0, 30]
ytick_text = ['-30', '0', '30']

# (magenta up, magenta down, black up, black down); None = mirror of the up curve
curves = [
    [(a_p_m, None, a_p_k, None), (a_t_m, None, a_t_k, None), (a_e_m, None, a_e_k, None), (a_T_m, None, a_T_k, None)],
    [(b_p_mu, b_p_md, b_p_ku, b_p_kd), (b_t_mu, b_t_md, b_t_ku, b_t_kd), (b_e_mu, b_e_md, b_e_ku, b_e_kd), (b_T_mu, b_T_md, b_T_ku, b_T_kd)],
    [(c_p_m, None, c_p_k, None), (c_t_m, None, c_t_k, None), (c_e_m, None, c_e_k, None), (c_T_m, None, c_T_k, None)],
    [(d_p_mu, d_p_md, d_p_ku, d_p_kd), (d_t_mu, d_t_md, d_t_ku, d_t_kd), (d_e_mu, d_e_md, d_e_ku, d_e_kd), (d_T_mu, d_T_md, d_T_ku, d_T_kd)],
    [(e_p_mu, e_p_md, e_p_ku, e_p_kd), (e_t_mu, e_t_md, e_t_ku, e_t_kd), (e_e_mu, e_e_md, e_e_ku, e_e_kd), (e_T_mu, e_T_md, e_T_ku, e_T_kd)],
    [(f_p_mu, f_p_md, f_p_ku, f_p_kd), (f_t_mu, f_t_md, f_t_ku, f_t_kd), (f_e_mu, f_e_md, f_e_ku, f_e_kd), (f_T_mu, f_T_md, f_T_ku, f_T_kd)],
]

# ---- layout in pixels ----
cols = [(39.4, 304.4), (369.1, 635.7)]
title_x = [7, 338]
ev_offset = [-2.7, -5.2]   # points, so the right column "5(eV)" stays inside
rows_px = [
    [(37.3, 108.7), (133.3, 204.5), (228.3, 299.3), (324, 390)],
    [(37.3, 108.7), (133.3, 204.5), (228.3, 299.3), (324, 390)],
    [(462.7, 535.7), (559.3, 631), (653.3, 725), (749, 814)],
    [(462.7, 535), (563.3, 634), (663.3, 735), (763.3, 830)],
    [(907.3, 978.7), (1003.3, 1074), (1097.7, 1169.3), (1193.3, 1258.3)],
    [(907.3, 978.7), (1003.3, 1074), (1097.7, 1169.3), (1193.3, 1258.3)],
]
panel_title_y = [13, 13, 438, 438, 883, 883]

fig = plt.figure(figsize=(W/100, H/100), dpi=100)


def split(pts, sign=1):
    return [p[0] for p in pts], [sign*p[1] for p in pts]


for i in range(6):
    x0, x1 = cols[i % 2]
    fig.text(title_x[i % 2]/W, 1 - panel_title_y[i]/H, titles[i], family='Liberation Serif',
             fontsize=13, va='center', ha='left')
    for j in range(4):
        y0, y1 = rows_px[i][j]
        ax = fig.add_axes([x0/W, 1 - y1/H, (x1 - x0)/W, (y1 - y0)/H])
        ax.set_xlim(-10, 6)
        ax.set_ylim(-30, 30)
        ax.axhline(0, color='black', lw=1.0, zorder=1)
        ax.axvline(0, color='black', lw=1.1, zorder=5)
        mu, md, ku, kd = curves[i][j]
        e, v = split(mu)
        ax.plot(e, v, color=MAG, lw=0.9, zorder=2)
        e, v = split(mu, -1) if md is None else split(md)
        ax.plot(e, v, color=MAG, lw=0.9, zorder=2)
        e, v = split(ku)
        ax.plot(e, v, color='black', lw=0.9, zorder=3)
        e, v = split(ku, -1) if kd is None else split(kd)
        ax.plot(e, v, color='black', lw=0.9, zorder=3)

        for s in ['left', 'top', 'right']:
            ax.spines[s].set_color('#a0a0a0')
            ax.spines[s].set_linewidth(0.9)
        ax.spines['bottom'].set_color(GREY)
        ax.spines['bottom'].set_linewidth(1.6)
        ax.set_yticks(ytick_vals)
        ax.set_yticklabels(ytick_text)
        ax.tick_params(axis='y', length=0, pad=6, labelsize=9.5, labelcolor='#333333')
        ax.set_xticks(xtick_vals)
        ax.tick_params(axis='x', direction='in', length=4, width=1, color=GREY,
                       pad=9, labelsize=9.5, labelcolor='#333333')
        if j == 3:
            ax.set_xticklabels(xtick_text)
            ax.annotate('5(eV)', xy=(5, 0), xycoords=('data', 'axes fraction'),
                        xytext=(ev_offset[i % 2], -9), textcoords='offset points',
                        ha='left', va='top', fontsize=9.5, color='#333333',
                        annotation_clip=False)
        else:
            ax.set_xticklabels([])
        ax.text(0.012, 0.035, row_labels[j], transform=ax.transAxes, fontsize=8.7,
                color=GREY, ha='left', va='bottom')
        if j == 0:
            handles = [Line2D([], [], color=MAG, lw=2.2), Line2D([], [], color='black', lw=2.2)]
            ax.legend(handles, ['U$_{eff}$ = 0', 'Opt U$_{eff}$'], loc='upper right',
                      frameon=False, fontsize=9, handlelength=0.6, handletextpad=0.3,
                      labelspacing=0.1, borderpad=0.2, borderaxespad=0.2,
                      labelcolor=[MAG, 'black'])

fig.savefig('out.png', dpi=100)
